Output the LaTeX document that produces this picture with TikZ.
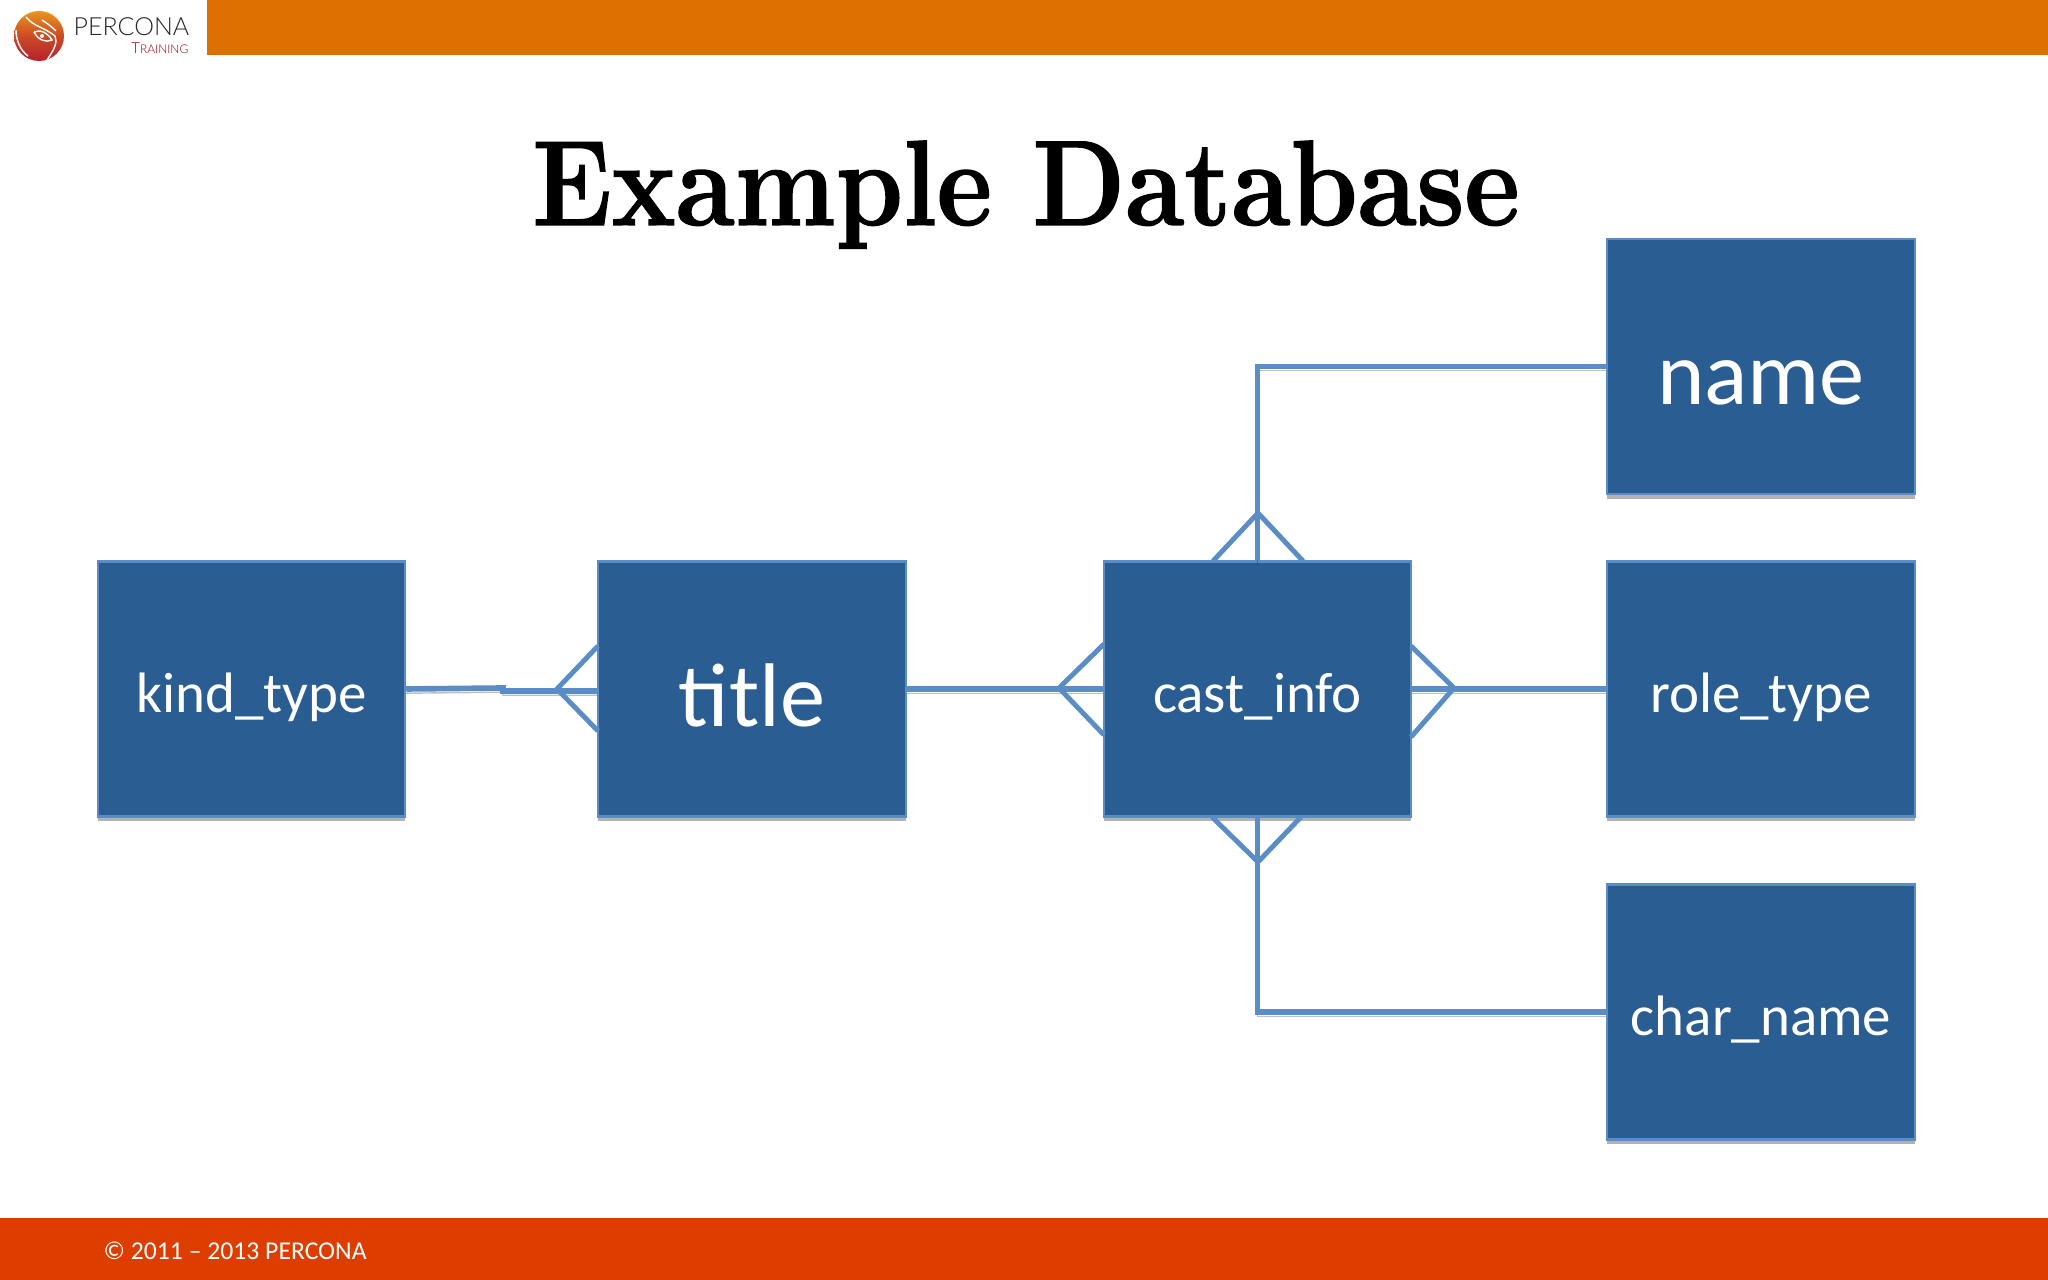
\documentclass[tikz,border=0pt]{standalone}
\usepackage{fontspec}
\usepackage{tikz}
\usetikzlibrary{shadows}
\setmainfont{Carlito}
\newfontfamily\logofont{Lato Light}
\newfontfamily\headfont{Latin Modern Roman}[BoldFeatures={FakeBold=1.2}]
\definecolor{barorange}{HTML}{DD7000}
\definecolor{barred}{HTML}{DE3D00}
\definecolor{boxblue}{HTML}{2A5D91}
\definecolor{linkblue}{HTML}{5A8DC6}
\definecolor{logotop}{HTML}{E8961E}
\definecolor{logomid}{HTML}{CC4A26}
\definecolor{logolow}{HTML}{B4222C}
\tikzset{
    table/.style={rectangle, fill=boxblue, draw=linkblue, line width=0.6pt, minimum width=87.4pt, minimum height=72.5pt, inner sep=0pt, text=white, text depth=0pt, text height=13.4pt, font=\fontsize{16.2}{16.2}\selectfont, drop shadow={shadow xshift=0pt, shadow yshift=-1.4pt, opacity=0.3, fill=black}},
    bigtable/.style={table, text height=21.6pt, font=\fontsize{25.7}{25.7}\selectfont},
    link/.style={draw=linkblue, line width=1.6pt, preaction={draw=black, opacity=0.25, transform canvas={yshift=-1.2pt}}},
    foot/.style={draw=linkblue, line width=1.4pt}
}
\begin{document}
\begin{tikzpicture}[x=0.01cm,y=-0.01cm]
    \useasboundingbox (0,0) rectangle (2048,1280);
    \fill[barorange] (207,0) rectangle (2048,55);
    \fill[barred] (0,1218) rectangle (2048,1280);

    % logo
    \shade[top color=logotop, bottom color=logolow, middle color=logomid] (39,36) circle (25);
    \draw[white, line width=0.4pt] (26,17) .. controls (34,27) and (44,27) .. (55,36) .. controls (58,42) and (54,50) .. (47,60);
    \draw[white, line width=0.4pt] (34,32) .. controls (40,29) and (48,33) .. (52,40) .. controls (46,43) and (38,40) .. (34,32);
    \draw[white, line width=0.4pt] (16,30) .. controls (16,40) and (20,50) .. (28,56);
    \draw[white, line width=0.4pt] (42,20) .. controls (48,24) and (52,27) .. (56,31);
    \fill[white] (42,36) circle (2);
    \node[anchor=base west, inner sep=0pt, text=black!85] (percona) at (73,36) {\logofont\fontsize{7.1}{7.1}\selectfont PERCONA};
    \node[anchor=base east, inner sep=0pt, text=red!55!black] (training) at (189,54) {\logofont\fontsize{4.3}{4.3}\selectfont T\fontsize{3.4}{3.4}\selectfont RAINING};

    % title
    \node[inner sep=0pt, anchor=base, xscale=0.888, transform shape] (heading) at (1026,225) {\headfont\bfseries\fontsize{34.5}{34.5}\selectfont Example Database};

    % tables
    \node[table] (kind) at (251.5,689) {kind\_type};
    \node[bigtable] (title) at (752,689) {title};
    \node[table] (cast) at (1257.5,689) {cast\_info};
    \node[bigtable] (name) at (1761,366.5) {name};
    \node[table] (role) at (1761,689) {role\_type};
    \node[table] (char) at (1761,1012) {char\_name};

    \coordinate (K1) at (503,688);
    \coordinate (K2) at (503,691);
    \coordinate (T0) at (557,689);
    \coordinate (T1) at (598,646);
    \coordinate (T2) at (598,731);
    \coordinate (C0) at (1059,688);
    \coordinate (C1) at (1104,644);
    \coordinate (C2) at (1104,735);
    \coordinate (R0) at (1454,688);
    \coordinate (R1) at (1411,646);
    \coordinate (R2) at (1411,737);
    \coordinate (U0) at (1258,513);
    \coordinate (U1) at (1213,561);
    \coordinate (U2) at (1303,561);
    \coordinate (D0) at (1258,862);
    \coordinate (D1) at (1212,817);
    \coordinate (D2) at (1301,817);

    \draw[link] (kind.east) -- (K1) -- (K2) -- (title.west |- K2); % kind_type
    \draw[foot] (T1) -- (T0) -- (T2);
    \draw[link] (title.east) -- (cast.west); % title
    \draw[foot] (C1) -- (C0) -- (C2);
    \draw[link] (cast.east) -- (role.west); % role_type
    \draw[foot] (R1) -- (R0) -- (R2);
    \draw[link] (name.west) -| (cast.north); % name
    \draw[foot] (U1) -- (U0) -- (U2);
    \draw[link] (char.west) -| (cast.south); % char_name
    \draw[foot] (D1) -- (D0) -- (D2);

    % footer
    \node[anchor=base west, inner sep=0pt, text=white] (copy) at (103,1260) {\fontsize{7.3}{7.3}\selectfont © 2011 – 2013 PERCONA};
\end{tikzpicture}
\end{document}
